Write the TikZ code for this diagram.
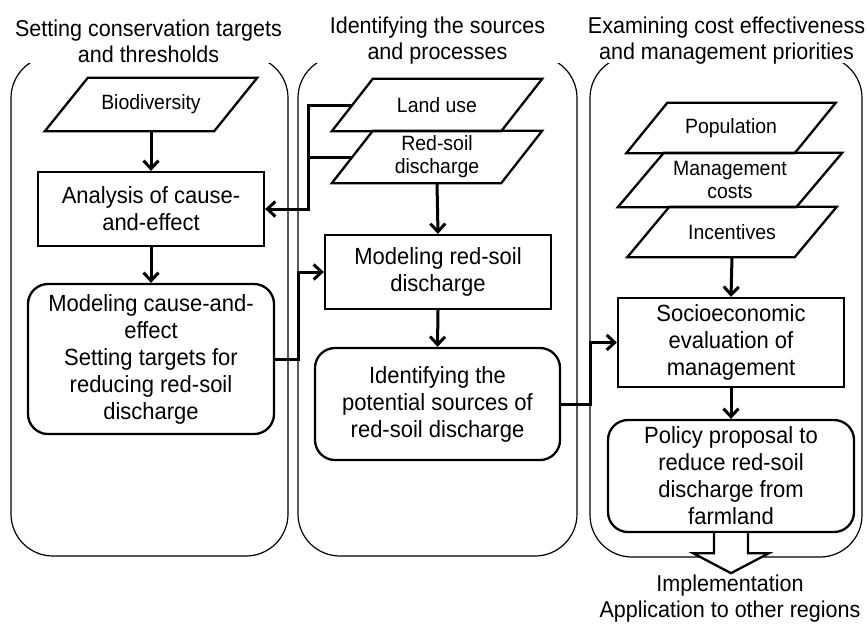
\documentclass[tikz,border=0pt]{standalone}
\usepackage{fontspec}
\setmainfont[FakeStretch=0.94]{Liberation Sans}
\usetikzlibrary{arrows.meta,calc}
\newcommand\paraoutline[2]{\draw[paraline] ($(#1.north west)+(#2,0)$) -- ($(#1.north east)+(#2,0)$) -- ($(#1.south east)+(-#2,0)$) -- ($(#1.south west)+(-#2,0)$) -- cycle;}
\begin{document}
\begin{tikzpicture}[x=1pt,y=-1pt,
  panel/.style={line width=1.2pt, rounded corners=42pt},
  head/.style={align=center, inner sep=0pt, font=\fontsize{22.9}{26}\selectfont},
  box/.style={draw, fill=white, line width=2.3pt, rectangle, align=center, inner sep=0pt, font=\fontsize{23.4}{27}\selectfont},
  rbox/.style={box, rounded corners=20pt},
  para/.style={rectangle, inner sep=0pt, align=center, font=\fontsize{20.7}{23}\selectfont},
  paraline/.style={line width=2.3pt, line join=miter},
  conn/.style={line width=3pt, -{Straight Barb[length=8pt,width=15pt]}},
  link/.style={line width=3pt},
  bigarrow/.style={line width=2.3pt, fill=white, line join=miter}
]
\useasboundingbox (0,0) rectangle (867,625);
% panels
\draw[panel] (11,56) rectangle (288,556);
\draw[panel] (298,56) rectangle (577,556);
\draw[panel] (590,56) rectangle (862,557);
\fill[white] (0,0) rectangle (867,63);
% headers
\node[head] (h1) at (148.5,41) {Setting conservation targets\\and thresholds};
\node[head] (h2) at (437.5,41) {Identifying the sources\\and processes};
\node[head] (h3) at (726.5,41) {Examining cost effectiveness\\and management priorities};
% column 1
\node[para, minimum width=169pt, minimum height=53pt] (bio) at (151,104.5) {Biodiversity};
\paraoutline{bio}{21.5}
\node[box, minimum width=226pt, minimum height=74pt] (ana) at (151,209) {Analysis of cause-\\and-effect};
\node[rbox, minimum width=246pt, minimum height=150pt] (mce) at (151,359) {Modeling cause-and-\\effect\\Setting targets for\\reducing red-soil\\discharge};
% column 2
\node[para, minimum width=169pt, minimum height=52pt] (land) at (437,105) {Land use};
\paraoutline{land}{20.5}
\node[para, minimum width=169pt, minimum height=52pt] (red) at (437,157) {Red-soil\\discharge};
\paraoutline{red}{20.5}
\node[box, minimum width=226pt, minimum height=74pt] (mrs) at (438,272) {Modeling red-soil\\discharge};
\node[rbox, minimum width=245pt, minimum height=112pt] (ide) at (437.5,404) {Identifying the\\potential sources of\\red-soil discharge};
% column 3
\node[para, minimum width=168pt, minimum height=50pt] (pop) at (731,128) {Population};
\paraoutline{pop}{20.5}
\node[para, minimum width=178pt, minimum height=54pt] (cost) at (730,180) {Management\\costs};
\paraoutline{cost}{23}
\node[para, minimum width=167pt, minimum height=50pt] (inc) at (732,232) {Incentives};
\paraoutline{inc}{21}
\node[box, minimum width=226pt, minimum height=89pt] (soc) at (731,342.5) {Socioeconomic\\evaluation of\\management};
\node[rbox, minimum width=246pt, minimum height=112pt] (pol) at (731,476) {Policy proposal to\\reduce red-soil\\discharge from\\farmland};
% junction columns
\coordinate (j1) at (308,0);
\coordinate (j2) at (298.5,0);
\coordinate (j3) at (590,0);
% connectors
\draw[conn] (bio.south) -- (ana.north);
\draw[conn] (ana.south) -- (mce.north);
\draw[conn] (land.west) -- (land.west -| j1) -- (ana.east -| j1) -- (ana.east);
\draw[link] (red.west) -- (red.west -| j1);
\draw[conn] (mce.east) -- (mce.east -| j2) -- (mrs.west -| j2) -- (mrs.west);
\draw[conn] (red.south) -- (mrs.north);
\draw[conn] (mrs.south) -- (ide.north);
\draw[conn] (ide.east) -- (ide.east -| j3) -- (soc.west -| j3) -- (soc.west);
\draw[conn] (inc.south) -- (soc.north);
\draw[conn] (soc.south) -- (pol.north);
% big hollow arrow
\draw[bigarrow] ($(pol.south)+(-17,0)$) -- ++(0,20) -- ++(-21,0) -- ++(38,20) -- ++(38,-20) -- ++(-21,0) -- ++(0,-20);
\node[head] (impl) at (730,599) {Implementation\\Application to other regions};
\end{tikzpicture}
\end{document}
